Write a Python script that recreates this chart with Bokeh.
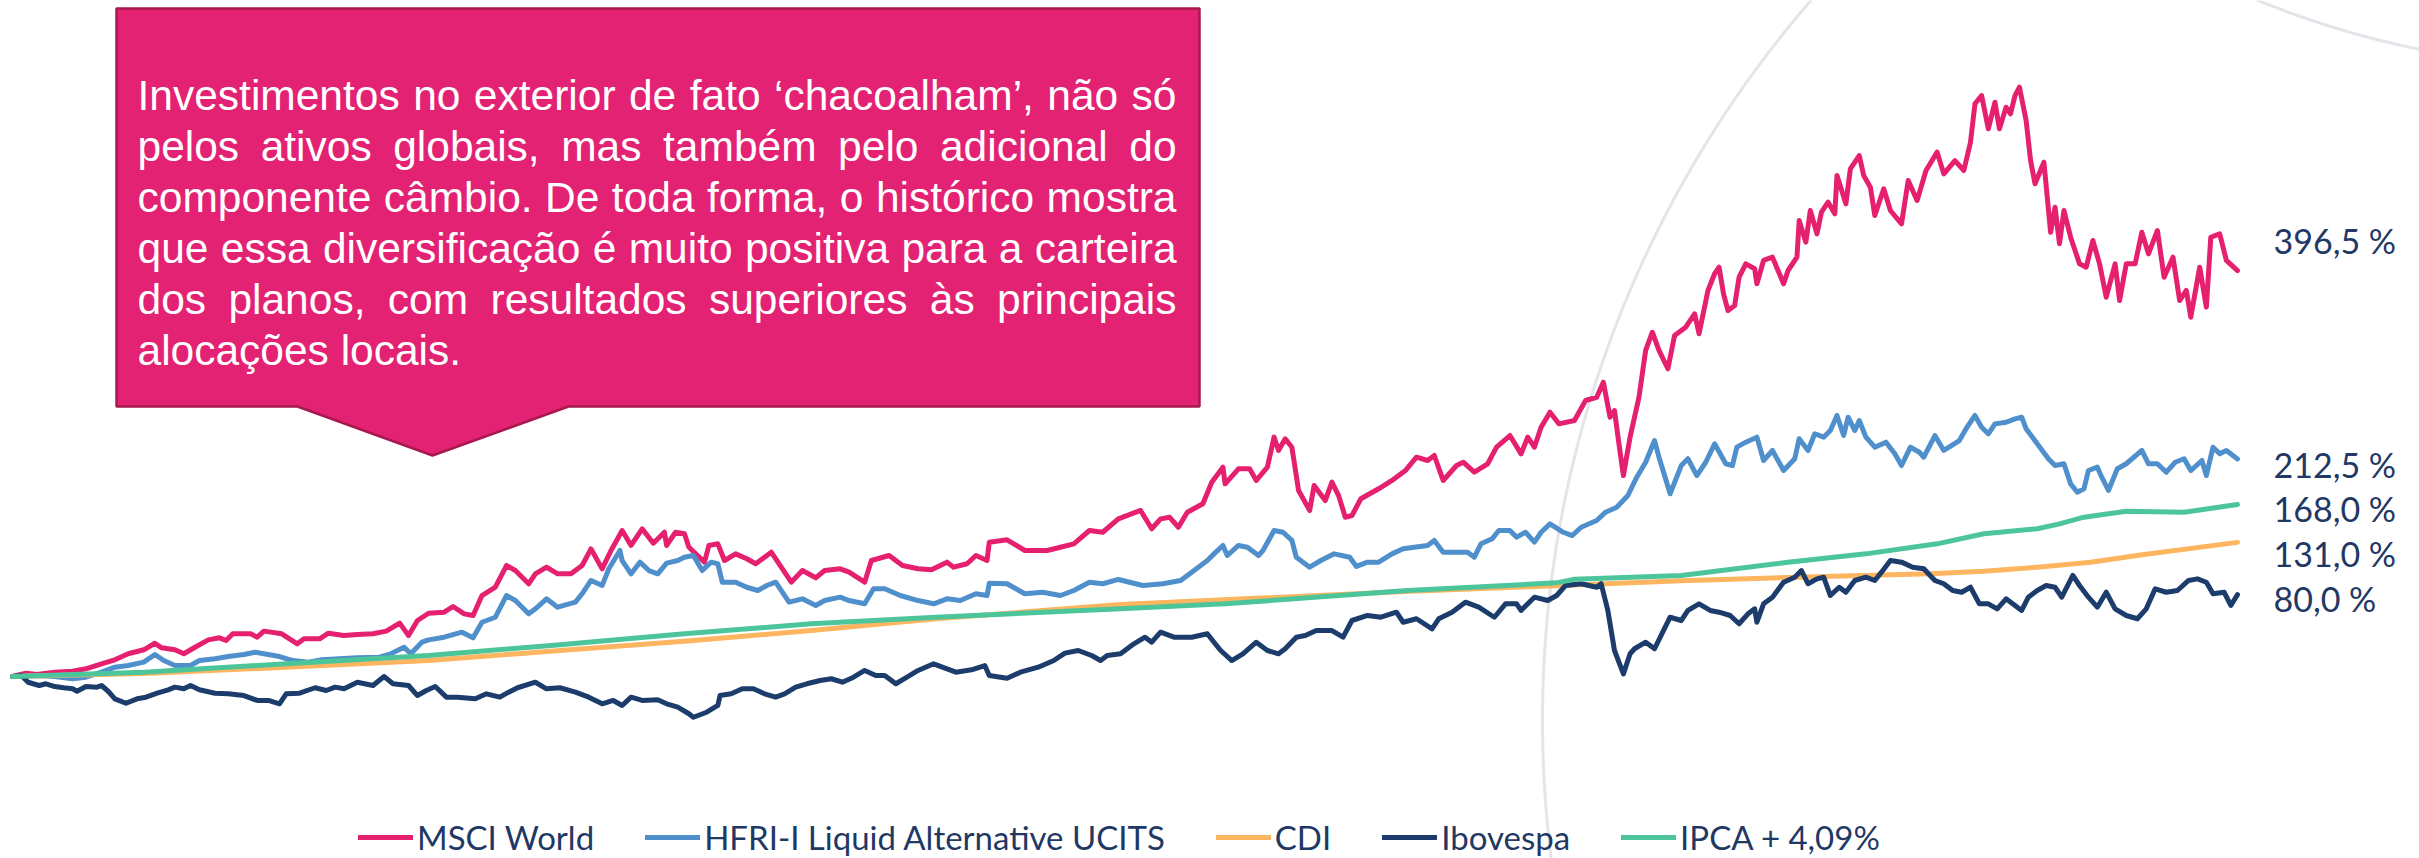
import numpy as np
import pandas as pd
from bokeh.plotting import figure
from bokeh.models import ColumnDataSource, Range1d, Legend, LegendItem
from bokeh.core.properties import value
from bokeh.embed import file_html
from bokeh.resources import INLINE

# ---------------- data (date as fractional year, cumulative return in %) ----------------
SERIES_NAMES = ["MSCI World", "HFRI-I Liquid Alternative UCITS", "CDI", "Ibovespa", "IPCA + 4,09%"]

MSCI_WORLD = [
    (2013.00, 0.0), (2013.06, 3.2), (2013.11, 2.0), (2013.19, 4.2), (2013.27, 5.2), (2013.33, 7.5),
    (2013.40, 12.4), (2013.46, 16.3), (2013.52, 22.2), (2013.59, 26.1), (2013.64, 32.5), (2013.67, 28.0),
    (2013.73, 26.1), (2013.77, 22.2), (2013.82, 28.6), (2013.88, 35.8), (2013.93, 37.8), (2013.96, 35.2),
    (2013.99, 41.7), (2014.07, 41.7), (2014.10, 38.4), (2014.13, 44.3), (2014.21, 41.7), (2014.28, 31.9),
    (2014.31, 36.8), (2014.38, 36.8), (2014.42, 42.3), (2014.49, 40.0), (2014.55, 41.0), (2014.62, 41.7),
    (2014.68, 44.3), (2014.74, 52.1), (2014.78, 40.0), (2014.82, 54.7), (2014.87, 61.8), (2014.94, 62.8),
    (2014.98, 68.4), (2015.03, 61.2), (2015.07, 59.6), (2015.11, 79.1), (2015.17, 87.2), (2015.22, 108.4),
    (2015.26, 103.5), (2015.32, 90.6), (2015.35, 100.3), (2015.40, 106.8), (2015.45, 100.3), (2015.51, 100.3),
    (2015.56, 108.4), (2015.60, 124.7), (2015.65, 105.2), (2015.69, 123.1), (2015.74, 142.6), (2015.78, 128.0),
    (2015.83, 144.3), (2015.88, 130.2), (2015.93, 140.9), (2015.94, 128.0), (2015.98, 140.9), (2016.02, 139.4),
    (2016.04, 126.3), (2016.11, 111.7), (2016.13, 128.0), (2016.17, 129.6), (2016.20, 113.3), (2016.25, 119.8),
    (2016.30, 115.0), (2016.34, 110.1), (2016.41, 121.4), (2016.44, 111.7), (2016.50, 92.1), (2016.55, 103.5),
    (2016.61, 96.4), (2016.65, 103.5), (2016.72, 105.2), (2016.76, 101.9), (2016.83, 92.1), (2016.86, 113.3),
    (2016.94, 118.2), (2017.00, 108.4), (2017.07, 105.2), (2017.13, 104.2), (2017.20, 111.7), (2017.23, 106.8),
    (2017.29, 110.1), (2017.33, 118.2), (2017.38, 113.3), (2017.39, 131.2), (2017.47, 133.5), (2017.55, 123.1),
    (2017.65, 123.1), (2017.71, 126.3), (2017.77, 129.6), (2017.84, 142.6), (2017.90, 140.9), (2017.97, 154.0),
    (2018.07, 162.2), (2018.12, 144.3), (2018.16, 154.0), (2018.20, 155.6), (2018.24, 145.8), (2018.28, 160.5),
    (2018.35, 168.7), (2018.39, 189.8), (2018.44, 204.5), (2018.45, 188.2), (2018.51, 202.9), (2018.56, 202.9),
    (2018.59, 191.5), (2018.64, 204.5), (2018.67, 233.8), (2018.69, 220.8), (2018.72, 232.2), (2018.75, 224.0),
    (2018.78, 181.7), (2018.83, 162.2), (2018.85, 186.6), (2018.90, 171.9), (2018.93, 189.8), (2018.96, 176.8),
    (2018.99, 155.6), (2019.02, 157.3), (2019.06, 173.6), (2019.14, 183.4), (2019.20, 191.5), (2019.26, 201.2),
    (2019.31, 214.2), (2019.36, 211.0), (2019.39, 215.9), (2019.43, 191.5), (2019.49, 206.1), (2019.52, 209.3),
    (2019.57, 199.6), (2019.63, 207.8), (2019.67, 224.0), (2019.73, 235.4), (2019.78, 217.5), (2019.81, 233.8),
    (2019.84, 224.0), (2019.87, 243.5), (2019.91, 258.2), (2019.95, 246.8), (2020.02, 250.1), (2020.07, 269.6),
    (2020.12, 272.8), (2020.15, 287.5), (2020.18, 253.3), (2020.20, 259.8), (2020.22, 227.3), (2020.24, 196.3),
    (2020.27, 233.8), (2020.31, 272.8), (2020.34, 318.5), (2020.37, 336.3), (2020.40, 318.5), (2020.44, 300.6),
    (2020.47, 333.1), (2020.52, 341.2), (2020.56, 354.3), (2020.58, 334.8), (2020.62, 377.1), (2020.65, 393.4),
    (2020.67, 399.8), (2020.69, 373.8), (2020.71, 357.5), (2020.74, 362.4), (2020.76, 390.1), (2020.79, 403.1),
    (2020.83, 398.3), (2020.84, 383.6), (2020.87, 406.4), (2020.91, 409.6), (2020.96, 383.6), (2020.98, 396.6),
    (2021.02, 409.6), (2021.03, 445.4), (2021.06, 424.3), (2021.08, 455.2), (2021.11, 432.4), (2021.13, 453.6),
    (2021.16, 463.3), (2021.19, 452.0), (2021.20, 489.4), (2021.24, 461.7), (2021.26, 495.9), (2021.30, 508.9),
    (2021.32, 489.4), (2021.35, 478.0), (2021.37, 450.3), (2021.41, 476.4), (2021.44, 455.2), (2021.49, 442.2),
    (2021.52, 484.5), (2021.56, 465.0), (2021.60, 494.3), (2021.65, 512.2), (2021.68, 491.0), (2021.73, 504.0),
    (2021.77, 494.3), (2021.80, 521.9), (2021.82, 559.4), (2021.85, 567.5), (2021.88, 535.0), (2021.91, 561.0),
    (2021.93, 535.0), (2021.96, 556.1), (2021.98, 549.7), (2022.00, 567.5), (2022.02, 575.7), (2022.05, 543.1),
    (2022.07, 504.0), (2022.09, 481.3), (2022.13, 502.4), (2022.16, 434.0), (2022.18, 458.4), (2022.20, 422.7),
    (2022.22, 455.2), (2022.25, 429.1), (2022.29, 403.1), (2022.32, 399.8), (2022.35, 425.9), (2022.38, 403.1),
    (2022.41, 370.5), (2022.45, 403.1), (2022.47, 367.3), (2022.50, 403.1), (2022.54, 403.1), (2022.57, 434.0),
    (2022.60, 412.9), (2022.64, 435.7), (2022.67, 390.1), (2022.71, 409.6), (2022.74, 367.3), (2022.77, 377.1),
    (2022.79, 351.0), (2022.83, 399.8), (2022.86, 360.8), (2022.88, 429.1), (2022.92, 432.4), (2022.95, 406.4),
    (2023.00, 396.5),
]

HFRI_UCITS = [
    (2013.00, 0.0), (2013.11, 1.0), (2013.19, 0.0), (2013.27, -2.3), (2013.33, -0.7), (2013.40, 4.2),
    (2013.46, 9.1), (2013.52, 10.7), (2013.59, 14.0), (2013.64, 21.5), (2013.68, 15.6), (2013.73, 10.7),
    (2013.80, 10.7), (2013.84, 15.6), (2013.91, 17.3), (2013.97, 19.5), (2014.04, 21.5), (2014.09, 23.7),
    (2014.13, 22.2), (2014.20, 19.5), (2014.26, 15.6), (2014.33, 14.0), (2014.39, 16.3), (2014.47, 17.3),
    (2014.55, 18.3), (2014.65, 18.9), (2014.70, 22.2), (2014.76, 28.6), (2014.79, 22.2), (2014.84, 33.5),
    (2014.87, 35.8), (2014.94, 38.4), (2015.02, 43.3), (2015.07, 37.8), (2015.11, 53.0), (2015.17, 57.9),
    (2015.22, 79.1), (2015.26, 74.2), (2015.32, 61.2), (2015.35, 66.1), (2015.40, 75.9), (2015.45, 67.7),
    (2015.53, 72.6), (2015.56, 80.8), (2015.60, 93.8), (2015.65, 88.9), (2015.68, 105.2), (2015.73, 123.1),
    (2015.74, 113.3), (2015.78, 100.3), (2015.82, 111.7), (2015.86, 103.5), (2015.90, 100.3), (2015.94, 110.7),
    (2015.99, 113.3), (2016.02, 116.5), (2016.06, 118.2), (2016.10, 103.5), (2016.14, 111.7), (2016.17, 110.1),
    (2016.19, 92.1), (2016.25, 92.1), (2016.30, 87.2), (2016.35, 84.0), (2016.39, 88.9), (2016.43, 92.1),
    (2016.49, 72.6), (2016.55, 75.9), (2016.61, 69.4), (2016.65, 74.2), (2016.72, 77.5), (2016.76, 74.2),
    (2016.83, 71.0), (2016.87, 85.7), (2016.92, 85.7), (2016.99, 79.1), (2017.07, 74.2), (2017.14, 71.0),
    (2017.20, 75.9), (2017.26, 74.2), (2017.33, 80.8), (2017.38, 79.1), (2017.39, 91.1), (2017.47, 90.6),
    (2017.55, 80.8), (2017.63, 82.3), (2017.71, 79.1), (2017.77, 84.0), (2017.84, 92.1), (2017.90, 90.6),
    (2017.97, 94.8), (2018.08, 88.9), (2018.17, 90.6), (2018.25, 93.8), (2018.30, 101.9), (2018.37, 113.3),
    (2018.40, 119.8), (2018.44, 128.0), (2018.46, 118.2), (2018.51, 128.0), (2018.55, 126.3), (2018.60, 118.2),
    (2018.62, 123.1), (2018.67, 142.6), (2018.71, 140.9), (2018.75, 132.9), (2018.77, 116.5), (2018.83, 106.8),
    (2018.88, 113.3), (2018.94, 119.8), (2019.01, 116.5), (2019.04, 107.5), (2019.09, 111.7), (2019.14, 111.7),
    (2019.20, 119.8), (2019.25, 124.7), (2019.30, 126.3), (2019.36, 128.0), (2019.39, 132.9), (2019.43, 121.4),
    (2019.49, 121.4), (2019.54, 121.4), (2019.57, 116.5), (2019.60, 129.6), (2019.65, 134.5), (2019.68, 142.6),
    (2019.73, 142.6), (2019.76, 136.1), (2019.80, 140.9), (2019.84, 131.2), (2019.87, 140.9), (2019.91, 149.1),
    (2019.97, 140.9), (2020.01, 137.7), (2020.05, 145.8), (2020.12, 152.4), (2020.16, 160.5), (2020.21, 165.4),
    (2020.26, 176.8), (2020.30, 194.7), (2020.34, 209.3), (2020.38, 230.5), (2020.40, 214.2), (2020.45, 178.5),
    (2020.50, 206.0), (2020.53, 212.7), (2020.57, 196.3), (2020.61, 209.3), (2020.65, 227.3), (2020.70, 207.8),
    (2020.73, 206.1), (2020.75, 224.0), (2020.79, 228.9), (2020.84, 233.8), (2020.87, 211.0), (2020.91, 220.8),
    (2020.96, 201.2), (2021.01, 212.7), (2021.03, 232.2), (2021.07, 220.8), (2021.10, 237.1), (2021.14, 233.8),
    (2021.17, 240.3), (2021.20, 255.0), (2021.23, 235.4), (2021.25, 253.3), (2021.28, 240.3), (2021.30, 250.1),
    (2021.33, 233.8), (2021.37, 224.0), (2021.42, 228.9), (2021.46, 217.5), (2021.49, 206.1), (2021.53, 224.0),
    (2021.57, 219.1), (2021.59, 214.2), (2021.64, 235.4), (2021.68, 220.8), (2021.75, 230.5), (2021.78, 242.0),
    (2021.82, 255.0), (2021.85, 243.5), (2021.88, 237.1), (2021.91, 246.8), (2021.96, 248.4), (2022.00, 251.7),
    (2022.03, 253.3), (2022.05, 242.0), (2022.10, 227.3), (2022.15, 212.7), (2022.18, 206.1), (2022.22, 207.8),
    (2022.25, 188.2), (2022.28, 180.0), (2022.31, 183.4), (2022.33, 201.2), (2022.37, 204.5), (2022.39, 194.7),
    (2022.42, 181.7), (2022.46, 202.9), (2022.50, 207.8), (2022.57, 220.8), (2022.60, 207.8), (2022.64, 207.8),
    (2022.68, 199.6), (2022.72, 209.3), (2022.76, 212.7), (2022.79, 201.2), (2022.84, 211.0), (2022.86, 196.3),
    (2022.89, 224.0), (2022.92, 217.5), (2022.95, 220.8), (2023.00, 212.5),
]

CDI = [
    (2013.00, 0.0), (2013.59, 3.0), (2014.23, 9.0), (2014.87, 15.6), (2015.46, 25.5), (2016.02, 34.5),
    (2016.59, 44.9), (2017.15, 56.4), (2017.98, 70.3), (2019.26, 83.0), (2020.50, 93.5), (2021.14, 97.7),
    (2021.62, 100.3), (2021.86, 102.9), (2022.10, 106.8), (2022.34, 111.7), (2022.58, 119.2), (2023.00, 131.0),
]

IBOVESPA = [
    (2013.00, 0.0), (2013.04, 1.0), (2013.07, -5.6), (2013.12, -8.8), (2013.15, -7.1), (2013.19, -9.8),
    (2013.23, -11.0), (2013.27, -12.0), (2013.29, -14.4), (2013.33, -9.8), (2013.38, -10.4), (2013.40, -8.8),
    (2013.43, -14.4), (2013.46, -21.8), (2013.51, -26.1), (2013.56, -21.8), (2013.60, -20.2), (2013.65, -16.3),
    (2013.70, -13.0), (2013.73, -10.4), (2013.77, -12.0), (2013.80, -8.8), (2013.84, -13.0), (2013.91, -16.3),
    (2013.97, -16.9), (2014.04, -18.6), (2014.10, -23.4), (2014.15, -23.4), (2014.20, -26.7), (2014.23, -16.9),
    (2014.29, -16.3), (2014.36, -11.0), (2014.41, -13.7), (2014.45, -10.4), (2014.49, -12.0), (2014.55, -5.6),
    (2014.62, -8.8), (2014.67, 0.0), (2014.71, -7.1), (2014.78, -8.8), (2014.82, -18.6), (2014.86, -13.7),
    (2014.90, -9.8), (2014.95, -20.2), (2015.00, -20.2), (2015.08, -21.8), (2015.13, -16.9), (2015.19, -20.2),
    (2015.23, -15.3), (2015.27, -11.0), (2015.35, -5.6), (2015.40, -12.0), (2015.46, -11.0), (2015.53, -15.3),
    (2015.59, -20.2), (2015.65, -26.7), (2015.70, -23.4), (2015.74, -28.3), (2015.78, -20.2), (2015.83, -23.4),
    (2015.90, -22.8), (2015.94, -26.7), (2015.99, -30.0), (2016.04, -36.4), (2016.06, -39.8), (2016.12, -34.9),
    (2016.17, -28.3), (2016.18, -18.6), (2016.23, -16.9), (2016.28, -12.0), (2016.33, -12.0), (2016.38, -16.9),
    (2016.43, -20.2), (2016.47, -16.9), (2016.52, -10.4), (2016.57, -7.1), (2016.63, -3.9), (2016.68, -2.2),
    (2016.73, -5.6), (2016.78, -0.7), (2016.83, 5.9), (2016.88, 1.0), (2016.92, 1.0), (2016.97, -7.1),
    (2017.02, -0.7), (2017.07, 5.9), (2017.14, 12.4), (2017.20, 7.5), (2017.24, 4.2), (2017.31, 6.5),
    (2017.37, 10.7), (2017.39, 1.0), (2017.47, -1.7), (2017.53, 4.2), (2017.61, 9.1), (2017.68, 15.6),
    (2017.73, 22.8), (2017.79, 25.4), (2017.85, 20.5), (2017.89, 15.6), (2017.92, 20.5), (2017.98, 22.2),
    (2018.04, 31.9), (2018.09, 38.4), (2018.12, 33.5), (2018.16, 43.3), (2018.22, 38.4), (2018.30, 38.4),
    (2018.37, 41.7), (2018.40, 33.5), (2018.43, 25.4), (2018.48, 15.6), (2018.53, 22.2), (2018.59, 33.5),
    (2018.64, 25.4), (2018.69, 22.2), (2018.72, 27.1), (2018.77, 38.4), (2018.81, 40.0), (2018.86, 44.9),
    (2018.93, 44.9), (2018.98, 38.4), (2019.02, 54.7), (2019.09, 59.6), (2019.15, 57.9), (2019.22, 62.8),
    (2019.25, 53.0), (2019.31, 56.4), (2019.38, 46.6), (2019.41, 56.4), (2019.47, 62.8), (2019.53, 72.6),
    (2019.59, 67.7), (2019.66, 57.9), (2019.71, 71.0), (2019.76, 71.0), (2019.78, 64.5), (2019.84, 77.5),
    (2019.90, 74.2), (2019.94, 79.1), (2019.98, 88.9), (2020.05, 90.6), (2020.12, 87.2), (2020.14, 90.6),
    (2020.17, 64.5), (2020.20, 25.4), (2020.24, 2.6), (2020.27, 22.2), (2020.29, 27.1), (2020.34, 33.5),
    (2020.38, 27.1), (2020.42, 44.9), (2020.45, 57.9), (2020.50, 54.7), (2020.53, 64.5), (2020.58, 71.0),
    (2020.63, 64.5), (2020.67, 62.8), (2020.72, 59.6), (2020.76, 51.5), (2020.80, 61.2), (2020.83, 66.1),
    (2020.84, 53.0), (2020.87, 71.0), (2020.91, 77.5), (2020.96, 92.1), (2021.01, 97.0), (2021.04, 103.5),
    (2021.07, 90.6), (2021.11, 95.4), (2021.14, 97.0), (2021.17, 79.1), (2021.21, 87.2), (2021.24, 82.3),
    (2021.28, 93.8), (2021.33, 97.0), (2021.37, 93.8), (2021.40, 101.9), (2021.44, 113.3), (2021.49, 111.7),
    (2021.54, 106.8), (2021.59, 105.2), (2021.64, 93.8), (2021.68, 90.6), (2021.72, 84.0), (2021.76, 82.3),
    (2021.80, 87.2), (2021.84, 71.0), (2021.88, 71.0), (2021.92, 66.1), (2021.96, 75.9), (2022.00, 69.4),
    (2022.03, 64.5), (2022.06, 77.5), (2022.10, 84.0), (2022.14, 88.9), (2022.18, 87.2), (2022.21, 77.5),
    (2022.26, 98.7), (2022.29, 88.9), (2022.33, 77.5), (2022.37, 67.7), (2022.41, 82.3), (2022.45, 66.1),
    (2022.50, 59.6), (2022.55, 56.4), (2022.59, 66.1), (2022.63, 85.7), (2022.68, 82.3), (2022.73, 84.0),
    (2022.78, 93.8), (2022.82, 95.4), (2022.86, 92.1), (2022.89, 80.8), (2022.94, 82.3), (2022.97, 69.4),
    (2023.00, 80.0),
]

IPCA_4_09 = [
    (2013.00, 0.0), (2013.59, 4.2), (2014.23, 12.4), (2014.87, 20.5), (2015.46, 31.0), (2016.02, 41.7),
    (2016.59, 51.5), (2017.15, 57.9), (2017.98, 66.1), (2018.45, 71.0), (2019.27, 84.0), (2019.94, 91.5),
    (2020.02, 95.0), (2020.50, 98.7), (2020.98, 111.7), (2021.33, 119.8), (2021.65, 129.6), (2021.86, 139.4),
    (2022.10, 144.3), (2022.20, 149.1), (2022.31, 155.6), (2022.50, 161.5), (2022.76, 160.5), (2023.00, 168.0),
]

CALLOUT_LINES = [
    "Investimentos no exterior de fato \u2018chacoalham\u2019, não só",
    "pelos ativos globais, mas também pelo adicional do",
    "componente câmbio. De toda forma, o histórico mostra",
    "que essa diversificação é muito positiva para a carteira",
    "dos planos, com resultados superiores às principais",
    "alocações locais.",
]

# ---------------- styles ----------------
COLORS = ["#E5206F", "#4F8FCC", "#FDB55F", "#1C3C6C", "#4DC59B"]
TEXT_NAVY = "#1F3864"
LABEL_FONT = "Lato"

# page geometry helpers (page pixel -> data)
W, H = 2419, 858
def xd(px):
    return 2013.0 + (np.asarray(px, dtype=float) - 12.0) / 222.5
def yd(py):
    return (676.0 - np.asarray(py, dtype=float)) / 1.0237
PX_PER_UNIT_Y = 1.0237

p = figure(width=W, height=H, output_backend="svg", toolbar_location=None,
           x_range=Range1d(float(xd(0)), float(xd(W))),
           y_range=Range1d(float(yd(H)), float(yd(0))),
           x_axis_type=None, y_axis_type=None, min_border=0,
           outline_line_color=None, background_fill_color="white",
           border_fill_color="white")

# decorative rings
th = np.linspace(np.pi / 2, 3 * np.pi / 2, 600)
p.line(xd(2642 + 1100 * np.cos(th)), yd(720 + 1100 * np.sin(th)),
       line_color="#E2E5EA", line_width=3)
th2 = np.linspace(np.radians(60), np.radians(115), 300)
p.line(xd(2600 + 908 * np.cos(th2)), yd(-841 + 908 * np.sin(th2)),
       line_color="#E2E5EA", line_width=3)

# series
all_series = [MSCI_WORLD, HFRI_UCITS, CDI, IBOVESPA, IPCA_4_09]
renderers = []
for name, data, col in zip(SERIES_NAMES, all_series, COLORS):
    df = pd.DataFrame(data, columns=["t", "v"])
    src = ColumnDataSource(df)
    r = p.line("t", "v", source=src, line_color=col, line_width=5,
               line_join="round", line_cap="round")
    renderers.append(r)

# end labels
LABEL_SHIFT_PX = [-30, 5.5, 11, 4, 4]   # screen px, positive = down
lx, ly, lt = [], [], []
for data, sh in zip(all_series, LABEL_SHIFT_PX):
    t_end, v_end = data[-1]
    lx.append(float(xd(2273)))
    ly.append(v_end - sh / PX_PER_UNIT_Y)
    lt.append(f"{v_end:.1f}".replace(".", ",") + " %")
p.text(x=lx, y=ly, text=lt, text_font=value(LABEL_FONT), text_font_size="34px",
       text_color=TEXT_NAVY, text_baseline="middle", text_align="left")

# callout box
bx = [116, 1199, 1199, 568, 432, 297, 116]
by = [8, 8, 406, 406, 455, 406, 406]
p.patch(xd(bx), yd(by), fill_color="#E32273", line_color="#A8184F", line_width=2.5)

ARIAL_W = {' ': 278, ',': 278, '.': 278, '\u2018': 222, '\u2019': 222, 'I': 278, 'D': 722,
           'a': 556, 'b': 556, 'c': 500, 'd': 556, 'e': 556, 'f': 278, 'g': 556, 'h': 556,
           'i': 222, 'j': 222, 'k': 500, 'l': 222, 'm': 833, 'n': 556, 'o': 556, 'p': 556,
           'q': 556, 'r': 333, 's': 500, 't': 278, 'u': 556, 'v': 500, 'w': 722, 'x': 500,
           'y': 500, 'z': 500, 'ã': 556, 'â': 556, 'á': 556, 'à': 556, 'é': 556, 'ê': 556,
           'ó': 556, 'ô': 556, 'õ': 556, 'ú': 556, 'ç': 500, 'í': 278}
def text_w(s, fs):
    return sum(ARIAL_W.get(ch, 556) for ch in s) / 1000.0 * fs

FS = 42.5
LEFT, RIGHT = 137.0, 1176.0
wx, wy, wt = [], [], []
for i, line in enumerate(CALLOUT_LINES):
    words = line.split(" ")
    widths = [text_w(w, FS) for w in words]
    base = 94.5 + 51.1 * i
    if i < len(CALLOUT_LINES) - 1 and len(words) > 1:
        gap = (RIGHT - LEFT - sum(widths)) / (len(words) - 1)
    else:
        gap = 0.278 * FS
    xcur = LEFT
    for w, wd in zip(words, widths):
        wx.append(float(xd(xcur)))
        wy.append(float(yd(base)))
        wt.append(w)
        xcur += wd + gap
p.text(x=wx, y=wy, text=wt, text_font=value("Liberation Sans"), text_font_size=f"{FS}px",
       text_color="white", text_baseline="alphabetic", text_align="left")

# legend
items = [LegendItem(label=n, renderers=[r]) for n, r in zip(SERIES_NAMES, renderers)]
legend = Legend(items=items, orientation="horizontal", location=(358, 1),
                glyph_width=55, glyph_height=20, label_standoff=4, spacing=51,
                padding=0, margin=0, border_line_alpha=0, background_fill_alpha=0,
                label_text_font=LABEL_FONT, label_text_font_size="33px",
                label_text_color=TEXT_NAVY)
p.add_layout(legend, "center")

open("out.html", "w").write(file_html(p, INLINE))
